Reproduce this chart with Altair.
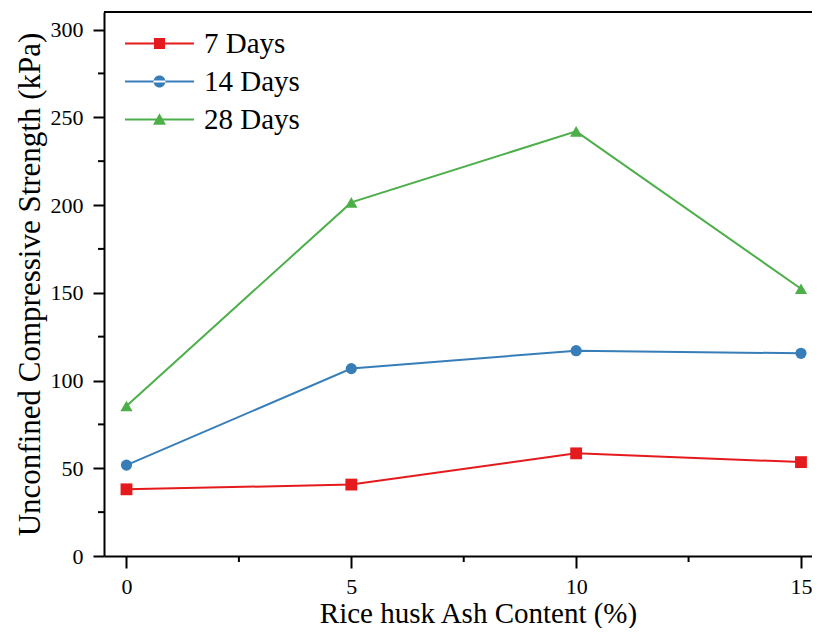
import altair as alt
import pandas as pd

# ---- data ----
ash_content = [0, 5, 10, 15]
days_7 = [38.0, 40.7, 58.5, 53.5]
days_14 = [51.8, 106.8, 117.0, 115.5]
days_28 = [85.5, 201.5, 242.0, 152.3]
series_names = ["7 Days", "14 Days", "28 Days"]
series_colors = ["#e41a1c", "#377eb8", "#4daf4a"]
series_shapes = ["square", "circle", "triangle-up"]
y_major = [0, 50, 100, 150, 200, 250, 300]
y_minor = [25, 75, 125, 175, 225, 275]
x_major = [0, 5, 10, 15]
x_minor = [2.5, 7.5, 12.5]

rows = []
for name, vals in zip(series_names, [days_7, days_14, days_28]):
    for x, v in zip(ash_content, vals):
        rows.append({"ash": x, "ucs": v, "series": name})
df = pd.DataFrame(rows)

W, H = 708, 544
FONT = "Liberation Serif"

x_scale = alt.Scale(domain=[-0.5, 15.245], nice=False, zero=False)
y_scale = alt.Scale(domain=[0, 310], nice=False)

x_axis = alt.Axis(
    values=x_major, format="d", tickSize=12,
    title="Rice husk Ash Content (%)",
    titleX=374, titleAlign="center", titlePadding=2,
    titleFontSize=29, labelPadding=8,
)
y_axis = alt.Axis(
    values=y_major, format="d", tickSize=11,
    title="Unconfined Compressive Strength (kPa)",
    titlePadding=4, titleFontSize=31, labelPadding=10,
)
x_enc = alt.X("ash:Q", scale=x_scale, axis=x_axis)
y_enc = alt.Y("ucs:Q", scale=y_scale, axis=y_axis)

base = alt.Chart(df)

# lines and markers, one layer per series
series_layers = []
for name, col, shp, sz in zip(series_names, series_colors, series_shapes, [140, 125, 150]):
    sub = base.transform_filter(alt.datum.series == name)
    series_layers.append(sub.mark_line(strokeWidth=2, color=col).encode(x=x_enc, y=y_enc))
    series_layers.append(
        sub.mark_point(filled=True, shape=shp, size=sz, color=col, opacity=1).encode(x=x_enc, y=y_enc)
    )

# minor ticks
y_minor_ticks = alt.Chart(pd.DataFrame({"ucs": y_minor})).mark_rule(color="#000000", strokeWidth=2).encode(
    y=y_enc, x=alt.value(0), x2=alt.value(-6)
)
x_minor_ticks = alt.Chart(pd.DataFrame({"ash": x_minor})).mark_rule(color="#000000", strokeWidth=2).encode(
    x=x_enc, y=alt.value(H), y2=alt.value(H + 6)
)

# legend symbols: line segment (thin bar) with marker, all filled
L, T = 2.875, 0.085
bar = f"M-{L},-{T}H{L}V{T}H-{L}Z"
sq = bar + " M-0.46,-0.46H0.46V0.46H-0.46Z"
ci = bar + " M-0.5,0A0.5,0.5,0,1,0,0.5,0A0.5,0.5,0,1,0,-0.5,0Z"
tr = bar + " M0,-0.52L0.54,0.44L-0.54,0.44Z"
leg_shape = alt.Scale(domain=series_names, range=[sq, ci, tr])
color_scale = alt.Scale(domain=series_names, range=series_colors)

legend_layer = base.transform_filter("false").mark_point(filled=True, opacity=1).encode(
    color=alt.Color("series:N", scale=color_scale, legend=alt.Legend(
        title=None, orient="none", legendX=41, legendY=17,
        symbolSize=576, symbolOpacity=1, labelOffset=30, rowPadding=8,
        labelFont=FONT, labelFontSize=29, labelColor="#000000", padding=0,
    )),
    shape=alt.Shape("series:N", scale=leg_shape),
)

top_border = alt.Chart(pd.DataFrame({"v": [0]})).mark_rule(color="#000000", strokeWidth=2).encode(
    x=alt.value(0), x2=alt.value(W), y=alt.value(0)
)

chart = (
    alt.layer(top_border, y_minor_ticks, x_minor_ticks, *series_layers, legend_layer)
    .properties(
        width=W, height=H,
        autosize=alt.AutoSizeParams(type="none"),
        padding={"left": 96, "top": 4, "right": 0, "bottom": 72},
    )
    .configure_view(stroke=None)
    .configure_axis(
        domainColor="#000000", domainWidth=2,
        tickColor="#000000", tickWidth=2,
        labelFont=FONT, labelFontSize=22, labelColor="#000000",
        titleFont=FONT, titleColor="#000000", titleFontWeight="normal",
        grid=False,
    )
)

chart.save("out.html", embed_options={"renderer": "svg", "actions": False})
